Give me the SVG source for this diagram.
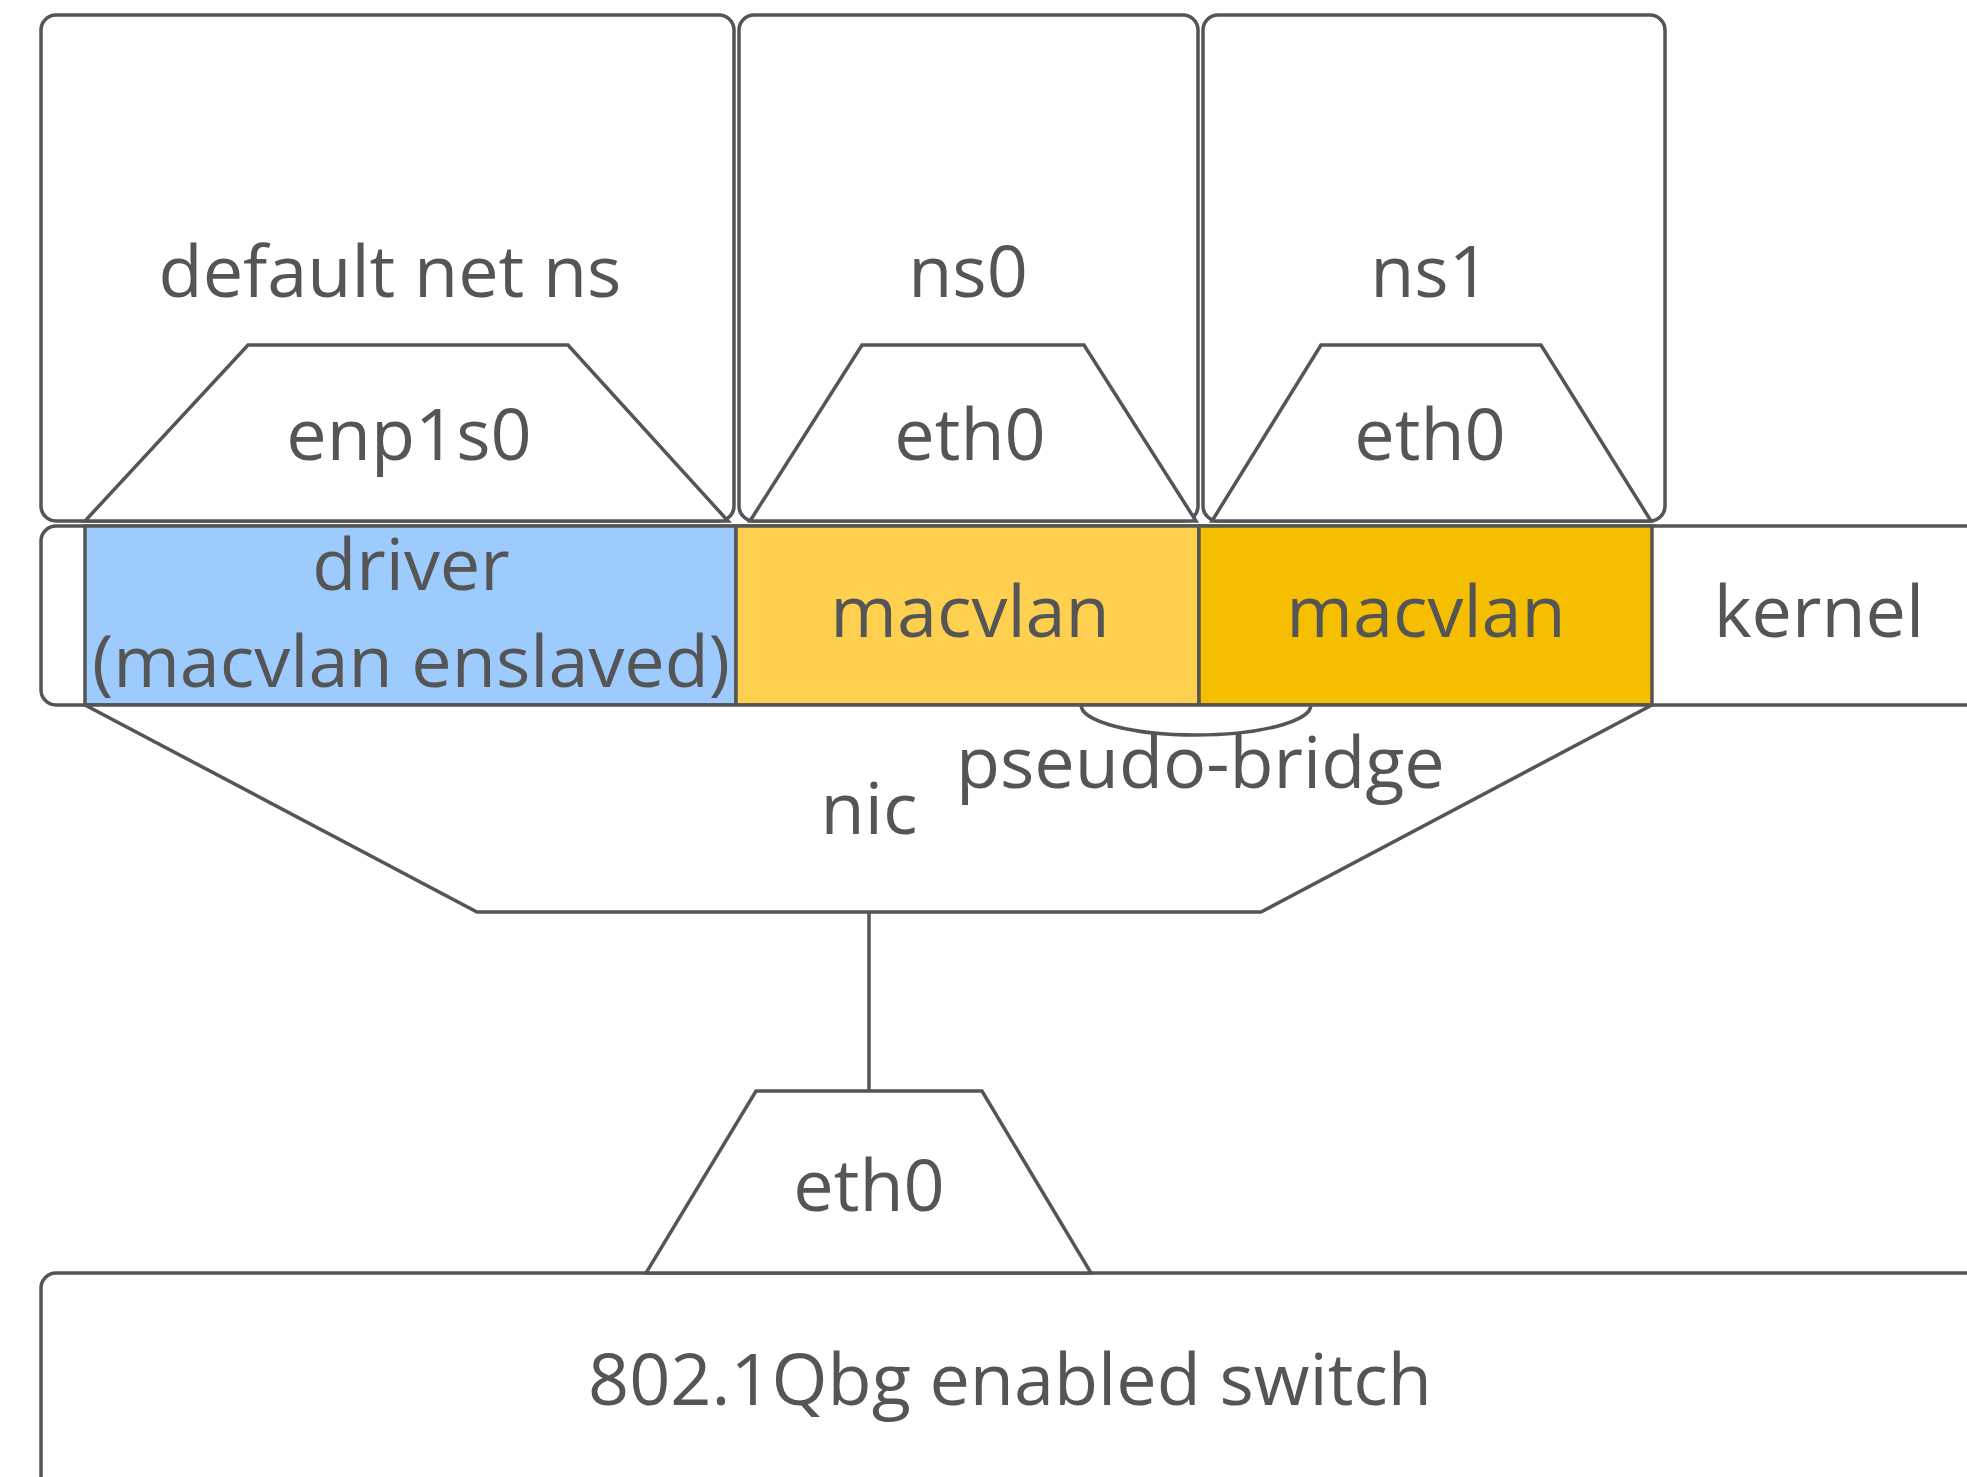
<svg xmlns="http://www.w3.org/2000/svg" width="1967" height="1477" viewBox="0 0 1967 1477">
<style>
.s{fill:#fff;stroke:#555;stroke-width:3.5}
.t{font-family:"Open Sans","DejaVu Sans",sans-serif;font-size:72px;fill:#555;text-anchor:middle}
.c{fill:none;stroke:#555;stroke-width:3.5}
</style>
<rect width="1967" height="1477" fill="#fff"/>
<g id="ns-default"><rect class="s" x="41" y="15" width="693" height="506" rx="15"/><text class="t" x="390" y="297">default net ns</text></g>
<g id="ns0"><rect class="s" x="739" y="15" width="459" height="506" rx="15"/><text class="t" x="968" y="297">ns0</text></g>
<g id="ns1"><rect class="s" x="1203" y="15" width="462" height="506" rx="15"/><text class="t" x="1430" y="297">ns1</text></g>
<g id="kernel"><rect class="s" x="41" y="526" width="1960" height="179" rx="15"/><text class="t" x="1819" y="637">kernel</text></g>
<g id="driver"><rect x="85" y="526" width="651" height="179" fill="#9dcbfd" stroke="#555" stroke-width="3.5"/><text class="t" x="411" y="590">driver</text><text class="t" x="411" y="687">(macvlan enslaved)</text></g>
<g id="macvlan0"><rect x="736" y="526" width="463" height="179" fill="#ffd04f" stroke="#555" stroke-width="3.5"/><text class="t" x="970" y="637">macvlan</text></g>
<g id="macvlan1"><rect x="1199" y="526" width="453" height="179" fill="#f5bf00" stroke="#555" stroke-width="3.5"/><text class="t" x="1426" y="637">macvlan</text></g>
<g id="enp1s0"><polygon class="s" points="248,345 568,345 728,521 85,521"/><text class="t" x="409" y="460">enp1s0</text></g>
<g id="eth0-ns0"><polygon class="s" points="862,345 1084,345 1196,521 750,521"/><text class="t" x="970" y="460">eth0</text></g>
<g id="eth0-ns1"><polygon class="s" points="1321,345 1541,345 1651,521 1212,521"/><text class="t" x="1430" y="460">eth0</text></g>
<g id="nic"><polygon class="s" points="85,705 1652,705 1261,912 477,912"/><text class="t" x="869" y="834">nic</text></g>
<g id="pseudo-bridge"><path class="c" d="M1081,705 A115,30 0 0 0 1311,705"/><text class="t" x="956" y="788" style="text-anchor:start">pseudo-bridge</text></g>
<g id="switch"><rect class="s" x="41" y="1273" width="1960" height="260" rx="15"/><text class="t" x="1010" y="1405">802.1Qbg enabled switch</text></g>
<g id="eth0-switch"><polygon class="s" points="756,1091 982,1091 1091,1273 646,1273"/><text class="t" x="869" y="1211">eth0</text></g>
<g id="connectors"><line class="c" x1="869" y1="912" x2="869" y2="1091"/></g>
</svg>
